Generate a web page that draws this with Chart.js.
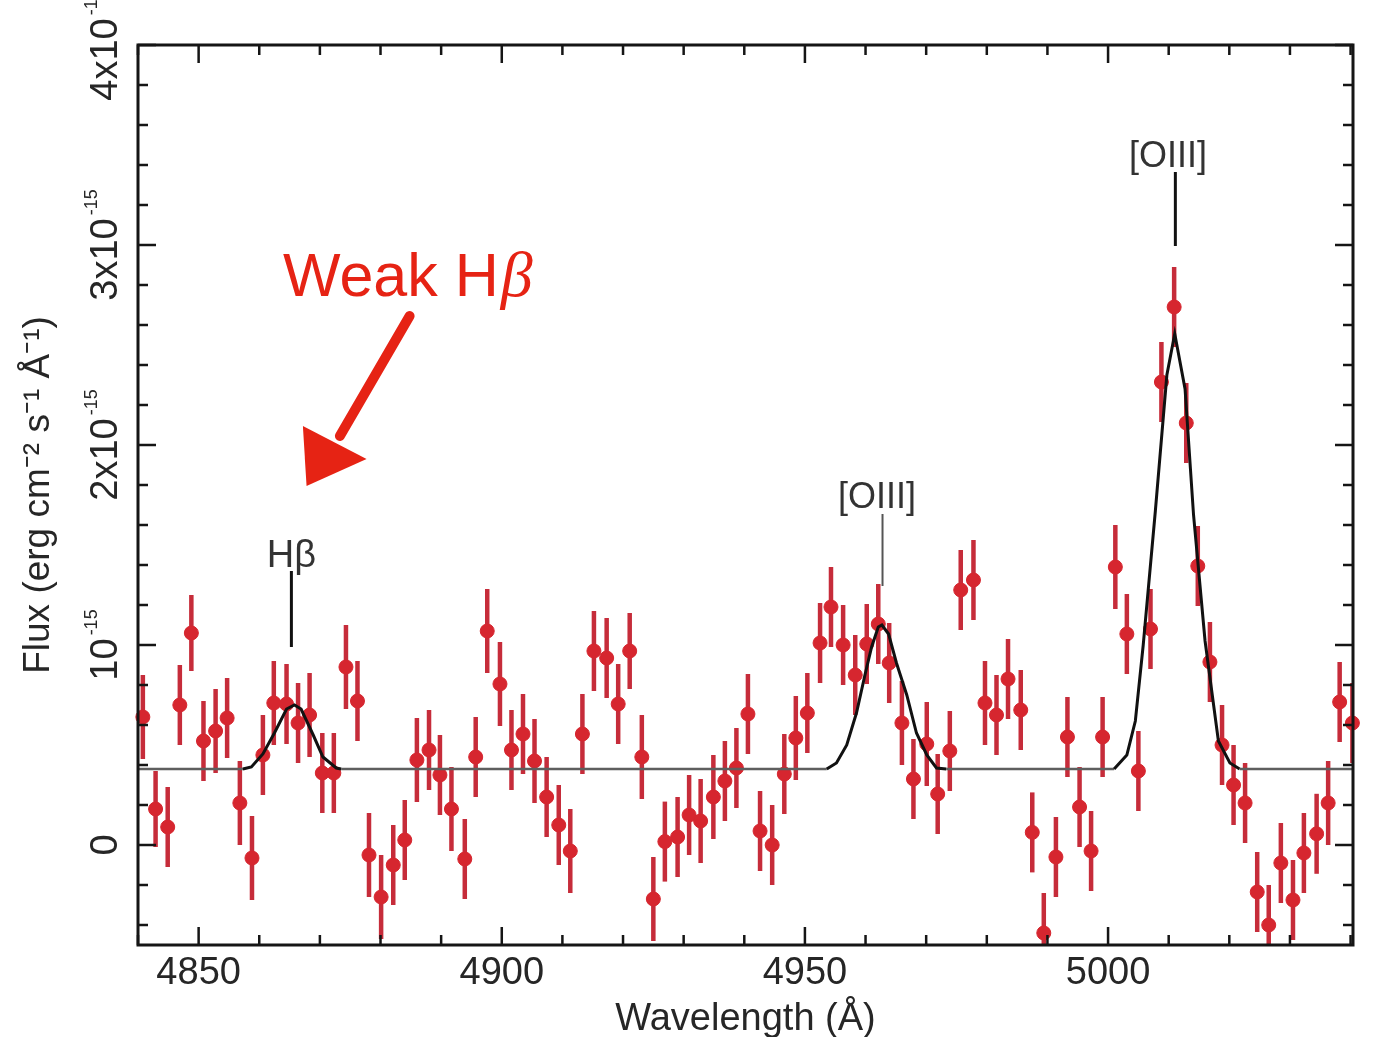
<!DOCTYPE html>
<html>
<head>
<meta charset="utf-8">
<script src="https://cdn.jsdelivr.net/npm/chart.js@4.4.0/dist/chart.umd.min.js"></script>
<style>
  html, body { margin: 0; padding: 0; background: #fff; }
</style>
</head>
<body>
<canvas id="spectrum_chart" width="1384" height="1037"></canvas>
<script>
Chart.defaults.font.family = '"Liberation Sans", Arial, sans-serif';
Chart.defaults.color = '#262626';

// wavelength of each spectral bin (Angstrom)
const wave = [
  4840.8, 4842.9, 4844.9, 4846.9, 4848.8, 4850.8, 4852.8, 4854.7, 4856.8, 4858.8,
  4860.6, 4862.4, 4864.5, 4866.4, 4868.3, 4870.4, 4872.3, 4874.3, 4876.2, 4878.1,
  4880.1, 4882.1, 4884.0, 4886.0, 4888.0, 4889.8, 4891.7, 4893.9, 4895.7, 4897.6,
  4899.7, 4901.6, 4903.5, 4905.4, 4907.4, 4909.4, 4911.3, 4913.3, 4915.2, 4917.3,
  4919.2, 4921.1, 4923.1, 4925.0, 4926.9, 4929.0, 4930.9, 4932.8, 4934.9, 4936.8,
  4938.7, 4940.6, 4942.6, 4944.6, 4946.6, 4948.5, 4950.4, 4952.5, 4954.3, 4956.3,
  4958.3, 4960.2, 4962.1, 4963.9, 4966.0, 4967.9, 4970.1, 4971.9, 4973.9, 4975.7,
  4977.8, 4979.7, 4981.6, 4983.5, 4985.6, 4987.5, 4989.4, 4991.4, 4993.3, 4995.3,
  4997.2, 4999.1, 5001.2, 5003.1, 5005.0, 5007.0, 5008.8, 5010.9, 5012.9, 5014.8,
  5016.8, 5018.8, 5020.7, 5022.6, 5024.6, 5026.5, 5028.5, 5030.5, 5032.3, 5034.4,
  5036.3, 5038.2, 5040.3,
];
// flux in units of 1e-15 erg cm-2 s-1 A-1
const flux = [
  0.64, 0.18, 0.09, 0.70, 1.06, 0.52, 0.57, 0.635, 0.21, -0.065,
  0.45, 0.71, 0.705, 0.61, 0.65, 0.36, 0.36, 0.89, 0.72, -0.05,
  -0.26, -0.10, 0.025, 0.425, 0.475, 0.35, 0.18, -0.07, 0.44, 1.07,
  0.805, 0.475, 0.555, 0.42, 0.24, 0.10, -0.03, 0.555, 0.97, 0.935,
  0.705, 0.97, 0.44, -0.27, 0.017, 0.04, 0.15, 0.12, 0.24, 0.32,
  0.385, 0.655, 0.07, 0.0, 0.355, 0.535, 0.66, 1.01, 1.19, 1.00,
  0.85, 1.005, 1.105, 0.91, 0.61, 0.33, 0.505, 0.255, 0.47, 1.275,
  1.325, 0.71, 0.65, 0.83, 0.675, 0.063, -0.44, -0.06, 0.54, 0.19,
  -0.03, 0.54, 1.39, 1.055, 0.37, 1.08, 2.315, 2.69, 2.11, 1.395,
  0.915, 0.50, 0.30, 0.21, -0.235, -0.40, -0.09, -0.275, -0.04, 0.056,
  0.21, 0.715, 0.61,
];
const fluxErr = [
  0.21, 0.19, 0.20, 0.20, 0.19, 0.20, 0.21, 0.20, 0.21, 0.21,
  0.20, 0.21, 0.20, 0.20, 0.21, 0.20, 0.20, 0.21, 0.20, 0.21,
  0.21, 0.20, 0.20, 0.21, 0.20, 0.20, 0.21, 0.20, 0.20, 0.21,
  0.21, 0.20, 0.20, 0.21, 0.20, 0.20, 0.21, 0.20, 0.20, 0.20,
  0.20, 0.19, 0.21, 0.21, 0.20, 0.20, 0.20, 0.21, 0.21, 0.20,
  0.20, 0.20, 0.20, 0.20, 0.20, 0.21, 0.20, 0.20, 0.20, 0.20,
  0.20, 0.20, 0.20, 0.20, 0.21, 0.20, 0.21, 0.20, 0.20, 0.20,
  0.20, 0.21, 0.20, 0.20, 0.20, 0.20, 0.20, 0.20, 0.20, 0.20,
  0.20, 0.20, 0.21, 0.20, 0.20, 0.20, 0.20, 0.20, 0.20, 0.20,
  0.20, 0.20, 0.20, 0.20, 0.20, 0.20, 0.20, 0.20, 0.20, 0.20,
  0.21, 0.20, 0.20,
];

// fitted model: flat continuum plus three emission lines
const modelWave = [
  4840.0, 4857.3, 4858.7, 4860.6, 4862.5, 4864.5, 4865.8, 4866.9, 4868.9, 4870.5, 4872.7, 4873.5,
  4953.6, 4955.2, 4956.9, 4958.5, 4959.9, 4961.0, 4962.1, 4962.7, 4963.8, 4965.1, 4966.8, 4968.4, 4970.1, 4971.7, 4973.3,
  5001.0, 5003.1, 5004.5, 5005.8, 5007.8, 5009.7, 5011.0, 5012.7, 5014.1, 5016.0, 5018.2, 5020.1, 5021.7, 5040.4,
];
const modelFlux = [
  0.38, 0.38, 0.39, 0.455, 0.56, 0.68, 0.70, 0.68, 0.55, 0.44, 0.385, 0.38,
  0.38, 0.41, 0.50, 0.66, 0.85, 0.99, 1.09, 1.10, 1.055, 0.91, 0.75, 0.56, 0.45, 0.385, 0.38,
  0.38, 0.45, 0.62, 1.00, 1.67, 2.35, 2.556, 2.28, 1.65, 1.02, 0.52, 0.41, 0.38, 0.38,
];

const xTickValues = [4850, 4900, 4950, 5000];
const yTickValues = [0, 1, 2, 3, 4];
const yTickMain = ['0', '10', '2x10', '3x10', '4x10'];
const yTickExp = ['', '-15', '-15', '-15', '-15'];

// line identifications
const lineNames = ['Hβ', '[OIII]', '[OIII]'];
const lineWave = [4865.3, 4962.8, 5011.1];

const CONT = 0.38;
const points = wave.map((w, i) => ({ x: w, y: flux[i] }));
const modelPoints = modelWave.map((w, i) => ({ x: w, y: modelFlux[i] }));

// marker/label layout in data units
const lineMarks = [
  { labelX: 4865.3, labelY: 1.39, lineTop: 1.37, lineBottom: 0.99, color: '#111', width: 3 },
  { labelX: 4961.9, labelY: 1.685, lineTop: 1.655, lineBottom: 1.295, color: '#555', width: 2 },
  { labelX: 5009.9, labelY: 3.39, lineTop: 3.365, lineBottom: 2.995, color: '#111', width: 3 },
];

const isFlat = c => c.p0.parsed.y <= CONT + 0.001 && c.p1.parsed.y <= CONT + 0.001;

const spectrumPlugin = {
  id: 'spectrumPlugin',
  beforeDatasetsDraw(chart) {
    const { ctx, chartArea: a, scales: { x, y } } = chart;
    ctx.save();
    ctx.beginPath();
    ctx.rect(a.left, a.top, a.right - a.left, a.bottom - a.top);
    ctx.clip();
    ctx.strokeStyle = '#c62c3a';
    ctx.lineWidth = 4.5;
    for (let i = 0; i < wave.length; i++) {
      const px = x.getPixelForValue(wave[i]);
      ctx.beginPath();
      ctx.moveTo(px, y.getPixelForValue(flux[i] - fluxErr[i]));
      ctx.lineTo(px, y.getPixelForValue(flux[i] + fluxErr[i]));
      ctx.stroke();
    }
    ctx.restore();
  },
  afterDatasetsDraw(chart) {
    const { ctx, chartArea: a, scales: { x, y } } = chart;
    ctx.save();
    // frame
    ctx.strokeStyle = '#151515';
    ctx.lineWidth = 3;
    ctx.strokeRect(a.left, a.top, a.right - a.left, a.bottom - a.top);
    // inward ticks
    ctx.lineWidth = 2.5;
    for (let v = 4840; v <= 5040; v += 10) {
      const px = x.getPixelForValue(v);
      const len = v % 50 === 0 ? 18 : 10;
      ctx.beginPath();
      ctx.moveTo(px, a.bottom); ctx.lineTo(px, a.bottom - len);
      ctx.moveTo(px, a.top); ctx.lineTo(px, a.top + len);
      ctx.stroke();
    }
    for (let k = -2; k <= 20; k++) {
      const py = y.getPixelForValue(k / 5);
      const len = k % 5 === 0 ? 18 : 10;
      ctx.beginPath();
      ctx.moveTo(a.left, py); ctx.lineTo(a.left + len, py);
      ctx.moveTo(a.right, py); ctx.lineTo(a.right - len, py);
      ctx.stroke();
    }
    // rotated y tick labels
    ctx.fillStyle = '#262626';
    yTickValues.forEach((v, i) => {
      const py = y.getPixelForValue(v);
      ctx.save();
      ctx.translate(117, py);
      ctx.rotate(-Math.PI / 2);
      ctx.textBaseline = 'alphabetic';
      ctx.textAlign = 'left';
      ctx.font = '38px "Liberation Sans", Arial, sans-serif';
      const w1 = ctx.measureText(yTickMain[i]).width;
      ctx.font = '18px "Liberation Sans", Arial, sans-serif';
      const w2 = yTickExp[i] ? ctx.measureText(yTickExp[i]).width + 3 : 0;
      const start = -(w1 + w2) / 2;
      ctx.font = '38px "Liberation Sans", Arial, sans-serif';
      ctx.fillText(yTickMain[i], start, 0);
      if (yTickExp[i]) {
        ctx.font = '18px "Liberation Sans", Arial, sans-serif';
        ctx.fillText(yTickExp[i], start + w1 + 3, -20);
      }
      ctx.restore();
    });
    // line identifications
    ctx.textAlign = 'center';
    ctx.textBaseline = 'alphabetic';
    lineMarks.forEach((m, i) => {
      const px = x.getPixelForValue(lineWave[i]);
      ctx.strokeStyle = m.color;
      ctx.lineWidth = m.width;
      ctx.beginPath();
      ctx.moveTo(px, y.getPixelForValue(m.lineTop));
      ctx.lineTo(px, y.getPixelForValue(m.lineBottom));
      ctx.stroke();
      ctx.fillStyle = '#333';
      ctx.font = (i === 0 ? '38px' : '36px') + ' "Liberation Sans", Arial, sans-serif';
      ctx.fillText(lineNames[i], x.getPixelForValue(m.labelX), y.getPixelForValue(m.labelY));
    });
    // "Weak Hβ" note with arrow
    const red = '#e62314';
    ctx.fillStyle = red;
    ctx.textAlign = 'left';
    const tx = x.getPixelForValue(4863.9);
    const ty = y.getPixelForValue(2.745);
    ctx.font = '61px "Liberation Sans", Arial, sans-serif';
    ctx.fillText('Weak H', tx, ty);
    const wWeak = ctx.measureText('Weak H').width;
    ctx.font = 'italic 64px "Liberation Serif", "DejaVu Serif", serif';
    ctx.fillText('β', tx + wWeak + 2, ty);
    ctx.strokeStyle = red;
    ctx.lineWidth = 10;
    ctx.lineCap = 'round';
    ctx.beginPath();
    ctx.moveTo(x.getPixelForValue(4884.8), y.getPixelForValue(2.645));
    ctx.lineTo(x.getPixelForValue(4873.3), y.getPixelForValue(2.045));
    ctx.stroke();
    ctx.beginPath();
    ctx.moveTo(x.getPixelForValue(4867.2), y.getPixelForValue(2.095));
    ctx.lineTo(x.getPixelForValue(4877.7), y.getPixelForValue(1.93));
    ctx.lineTo(x.getPixelForValue(4867.8), y.getPixelForValue(1.795));
    ctx.closePath();
    ctx.fill();
    ctx.restore();
  },
};

const ctx_spec = document.getElementById('spectrum_chart');
const chart_spec = new Chart(ctx_spec, {
  type: 'scatter',
  data: {
    datasets: [
      {
        label: 'Model',
        type: 'line',
        data: modelPoints,
        showLine: true,
        borderColor: '#111',
        borderWidth: 3,
        pointRadius: 0,
        tension: 0,
        fill: false,
        order: 0,
        segment: {
          borderColor: c => (isFlat(c) ? '#5e5e5e' : '#111'),
          borderWidth: c => (isFlat(c) ? 2.5 : 3),
        },
      },
      {
        label: 'Data',
        data: points,
        pointRadius: 7,
        pointBackgroundColor: '#d6262f',
        pointBorderColor: '#d6262f',
        pointBorderWidth: 1,
        order: 1,
        clip: false,
      },
    ],
  },
  options: {
    responsive: false,
    animation: false,
    layout: { padding: { top: 45, right: 31, left: 0, bottom: 0 } },
    plugins: { legend: { display: false }, tooltip: { enabled: false } },
    scales: {
      x: {
        type: 'linear',
        min: 4840,
        max: 5040.4,
        grid: { display: false, drawTicks: false },
        border: { display: false },
        afterBuildTicks: s => { s.ticks = xTickValues.map(v => ({ value: v })); },
        afterFit: s => { s.height = 92; },
        ticks: {
          font: { size: 38 },
          padding: 6,
          maxRotation: 0,
          autoSkip: false,
          callback: v => String(v),
        },
        title: {
          display: true,
          text: 'Wavelength (Å)',
          font: { size: 38, lineHeight: 0.9 },
          padding: 0,
        },
      },
      y: {
        min: -0.5,
        max: 4,
        grid: { display: false, drawTicks: false },
        border: { display: false },
        ticks: { display: false },
        afterFit: s => { s.width = 138; },
        title: {
          display: true,
          text: 'Flux (erg cm⁻² s⁻¹ Å⁻¹)',
          font: { size: 37 },
          padding: { top: 17, bottom: 0 },
        },
      },
    },
  },
  plugins: [spectrumPlugin],
});
</script>
</body>
</html>
